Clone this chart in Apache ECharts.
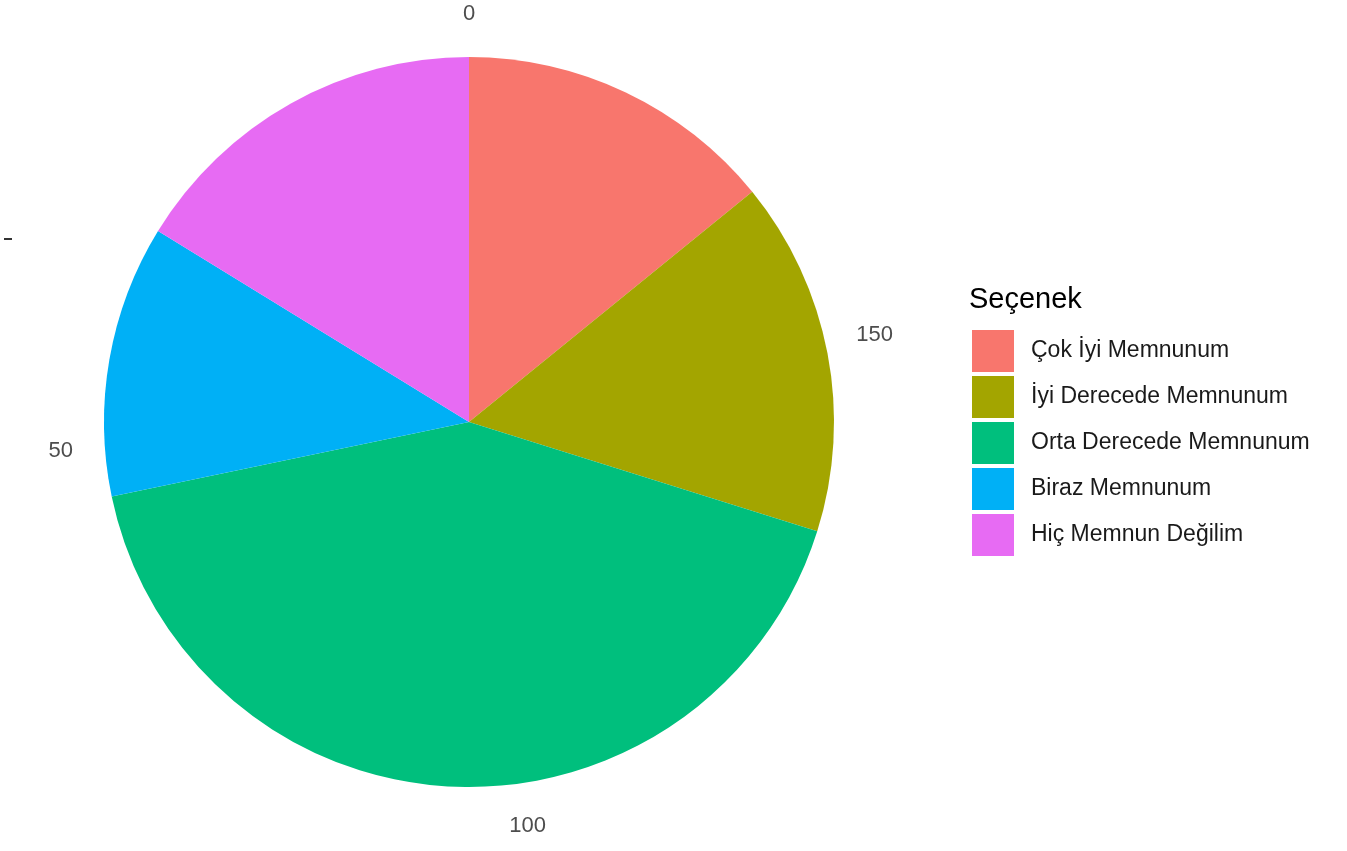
<!DOCTYPE html>
<html><head><meta charset="utf-8">
<script src="https://cdn.jsdelivr.net/npm/echarts@6/dist/echarts.min.js"></script>
<style>html,body{margin:0;padding:0;background:#fff}#c{width:1347px;height:851px}</style>
</head><body><div id="c"></div>
<script>
const categories = ['Çok İyi Memnunum','İyi Derecede Memnunum','Orta Derecede Memnunum','Biraz Memnunum','Hiç Memnun Değilim'];
const values = [27, 30, 80, 23, 31];
const colors = ['#F8766D','#A3A500','#00BF7D','#00B0F6','#E76BF3'];
const tickValues = [0, 50, 100, 150];
const legendTitle = 'Seçenek';

const total = values.reduce((a,b)=>a+b,0);
const font = '"Liberation Sans", Arial, sans-serif';
const chart = echarts.init(document.getElementById('c'));
chart.setOption({
  animation: false,
  backgroundColor: '#fff',
  title: { text: legendTitle, left: 964, top: 280, textStyle: { fontFamily: font, fontSize: 29, fontWeight: 'normal', color: '#000' } },
  legend: {
    orient: 'vertical', left: 967, top: 325, icon: 'rect',
    itemWidth: 42, itemHeight: 42, itemGap: 4,
    data: categories,
    textStyle: { fontFamily: font, fontSize: 23, color: '#1a1a1a', padding: [0,0,0,12] }
  },
  polar: { center: [469, 422], radius: 365 },
  angleAxis: {
    type: 'value', min: 0, max: total, startAngle: 90, clockwise: false,
    interval: 50,
    axisLine: { show: false }, axisTick: { show: false }, splitLine: { show: false },
    axisLabel: { margin: 32, fontFamily: font, fontSize: 22, color: '#4d4d4d',
      formatter: v => tickValues.includes(v) ? String(v) : '' }
  },
  radiusAxis: { type: 'value', show: false, min: 0, max: 1 },
  graphic: [{ type: 'rect', left: 4, top: 238, shape: { width: 8, height: 2 }, style: { fill: '#333' } }],
  series: [{
    type: 'pie', center: [469, 422], radius: [0, 365], startAngle: 90, clockwise: true,
    label: { show: false }, labelLine: { show: false }, emphasis: { disabled: true },
    itemStyle: { borderWidth: 0 },
    data: categories.map((c,i)=>({ name: c, value: values[i], itemStyle: { color: colors[i] } }))
  }]
});
</script></body></html>
